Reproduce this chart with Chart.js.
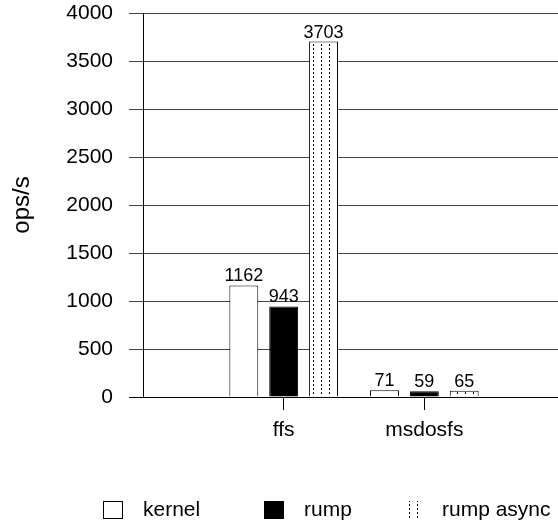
<!DOCTYPE html>
<html>
<head>
<meta charset="utf-8">
<script src="https://cdn.jsdelivr.net/npm/chart.js@4.4.0/dist/chart.umd.min.js"></script>
<style>
  html, body { margin: 0; padding: 0; background: #fff; }
  #wrap { position: relative; width: 558px; height: 527px; }
</style>
</head>
<body>
<div id="wrap"><canvas id="opsChart"></canvas></div>
<script>
// Chart data
const categories = ['ffs', 'msdosfs'];
const seriesNames = ['kernel', 'rump', 'rump async'];
const kernelOps = [1162, 71];
const rumpOps = [943, 59];
const rumpAsyncOps = [3703, 65];
const yMin = 0;
const yMax = 4000;
const yStep = 500;

const FONT = "'Liberation Sans', Arial, sans-serif";
Chart.defaults.font.family = FONT;
Chart.defaults.color = '#000';

const canvas = document.getElementById('opsChart');

// vertical dotted fill used for "rump async"
function dottedPattern() {
    const tile = document.createElement('canvas');
    tile.width = 8;
    tile.height = 4;
    const g = tile.getContext('2d');
    g.fillStyle = '#fff';
    g.fillRect(0, 0, 8, 4);
    g.fillStyle = '#000';
    g.fillRect(1, 0, 1, 2);
    return canvas.getContext('2d').createPattern(tile, 'repeat');
}

const toPoints = arr => arr.map((v, i) => ({ x: i, y: v }));

// numbers above each bar
const valueLabels = {
    id: 'valueLabels',
    afterDatasetsDraw(chart) {
        const { ctx } = chart;
        ctx.save();
        ctx.font = '18px ' + FONT;
        ctx.fillStyle = '#000';
        ctx.textAlign = 'center';
        ctx.textBaseline = 'alphabetic';
        chart.data.datasets.forEach((ds, i) => {
            chart.getDatasetMeta(i).data.forEach((bar, j) => {
                ctx.fillText(String(ds.data[j].y), bar.x, bar.y - 4);
            });
        });
        ctx.restore();
    }
};

// key row under the plot
const legendCols = [103, 264, 402];
const legendOutline = [true, true, false];
const keyLegend = {
    id: 'keyLegend',
    afterDraw(chart) {
        const { ctx } = chart;
        const y = 510;
        ctx.save();
        ctx.font = '21px ' + FONT;
        ctx.textAlign = 'left';
        ctx.textBaseline = 'middle';
        chart.data.datasets.forEach((ds, i) => {
            const x = legendCols[i];
            ctx.fillStyle = ds.backgroundColor;
            ctx.fillRect(x, y - 9, 20, 18);
            if (legendOutline[i]) {
                ctx.strokeStyle = '#000';
                ctx.lineWidth = 1;
                ctx.strokeRect(x + 0.5, y - 8.5, 19, 17);
            }
            ctx.fillStyle = '#000';
            ctx.fillText(ds.label, x + 40, y);
        });
        ctx.restore();
    }
};

new Chart(canvas, {
    type: 'bar',
    data: {
        datasets: [{
            label: seriesNames[0],
            data: toPoints(kernelOps),
            backgroundColor: '#fff',
            borderColor: '#000',
            borderWidth: 1
        }, {
            label: seriesNames[1],
            data: toPoints(rumpOps),
            backgroundColor: '#000',
            borderColor: '#000',
            borderWidth: 1
        }, {
            label: seriesNames[2],
            data: toPoints(rumpAsyncOps),
            backgroundColor: dottedPattern(),
            borderColor: '#000',
            borderWidth: 1
        }]
    },
    options: {
        responsive: true,
        maintainAspectRatio: false,
        animation: false,
        layout: { padding: { left: 0, right: 0, top: 13, bottom: 70 } },
        datasets: { bar: { categoryPercentage: 0.85, barPercentage: 0.725 } },
        plugins: {
            legend: { display: false },
            tooltip: { enabled: false }
        },
        scales: {
            x: {
                type: 'linear',
                min: -1,
                max: 1.95,
                offset: false,
                afterBuildTicks: scale => { scale.ticks = categories.map((c, i) => ({ value: i })); },
                afterFit: scale => { scale.height = 60; },
                ticks: {
                    callback: (value, index) => categories[index],
                    font: { size: 21 },
                    padding: 8,
                    autoSkip: false,
                    maxRotation: 0
                },
                grid: { offset: false, drawOnChartArea: false, tickLength: 13, color: '#000' },
                border: { color: '#000' }
            },
            y: {
                min: yMin,
                max: yMax,
                ticks: {
                    stepSize: yStep,
                    font: { size: 21 },
                    padding: 16,
                    callback: value => String(value)
                },
                grid: {
                    color: c => c.tick && c.tick.value === 0 ? '#000' : '#444',
                    tickLength: 14
                },
                border: { color: '#000' },
                title: {
                    display: true,
                    text: 'ops/s',
                    font: { size: 24 },
                    padding: { top: 8, bottom: 0 }
                },
                afterFit: scale => {
                    scale.width = 143;
                    scale.paddingTop = 0;
                    scale.paddingBottom = 0;
                }
            }
        }
    },
    plugins: [valueLabels, keyLegend]
});
</script>
</body>
</html>
